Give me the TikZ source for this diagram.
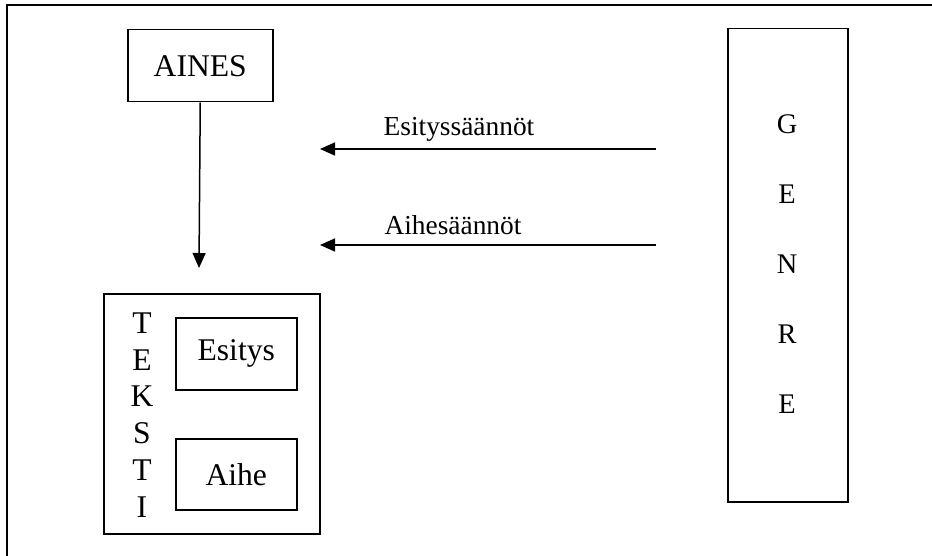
\documentclass[tikz,border=0pt]{standalone}
\usepackage{fontspec}
\setmainfont{Liberation Serif}
\usetikzlibrary{arrows.meta}
\tikzset{
  box/.style={draw, line width=0.75pt, inner sep=0pt, anchor=north west},
  big/.style={font=\fontsize{15.8}{18}\selectfont},
  lbl/.style={font=\fontsize{13.7}{16}\selectfont, inner sep=0pt},
  conn/.style={line width=0.75pt, -{Triangle[length=7.5pt,width=6.5pt]}},
}
\begin{document}
\begin{tikzpicture}[x=0.5pt,y=-0.5pt]
\useasboundingbox (0,0) rectangle (932,556);
% outer frame (only top and left edges visible)
\draw[line width=1.2pt] (7,556) -- (7,5) -- (932,5);
% AINES
\node[box, big, minimum width=72.5pt, minimum height=36pt] (aines) at (127,29) {AINES};
% TEKSTI box
\node[box, minimum width=108pt, minimum height=120pt] (teksti) at (103,293) {};
\node[big, align=center, font=\fontsize{15.8}{18.4}\selectfont, inner sep=0pt] (tekstilbl) at (142,415) {T\\E\\K\\S\\T\\I};
\node[box, big, minimum width=60.5pt, minimum height=36pt] (esitys) at (175,317) {Esitys};
\node[box, big, minimum width=60.5pt, minimum height=35.5pt] (aihe) at (175,438) {Aihe};
% GENRE box
\node[box, minimum width=60pt, minimum height=236.5pt] (genre) at (727,28) {};
\node[align=center, font=\fontsize{14.2}{35}\selectfont, inner sep=0pt] (genrelbl) at (787,264) {G\\E\\N\\R\\E};
% AINES -> TEKSTI
\coordinate (tip1) at (199,268);
\draw[conn] (aines.south) -- (tip1);
% rule arrows
\coordinate (es) at (656,149);
\coordinate (et) at (320,149);
\coordinate (as) at (656,245);
\coordinate (at) at (320,245);
\draw[conn] (es) -- (et);
\draw[conn] (as) -- (at);
\node[lbl] (eslbl) at (459,129) {Esityssäännöt};
\node[lbl] (aslbl) at (453,225) {Aihesäännöt};
\end{tikzpicture}
\end{document}
